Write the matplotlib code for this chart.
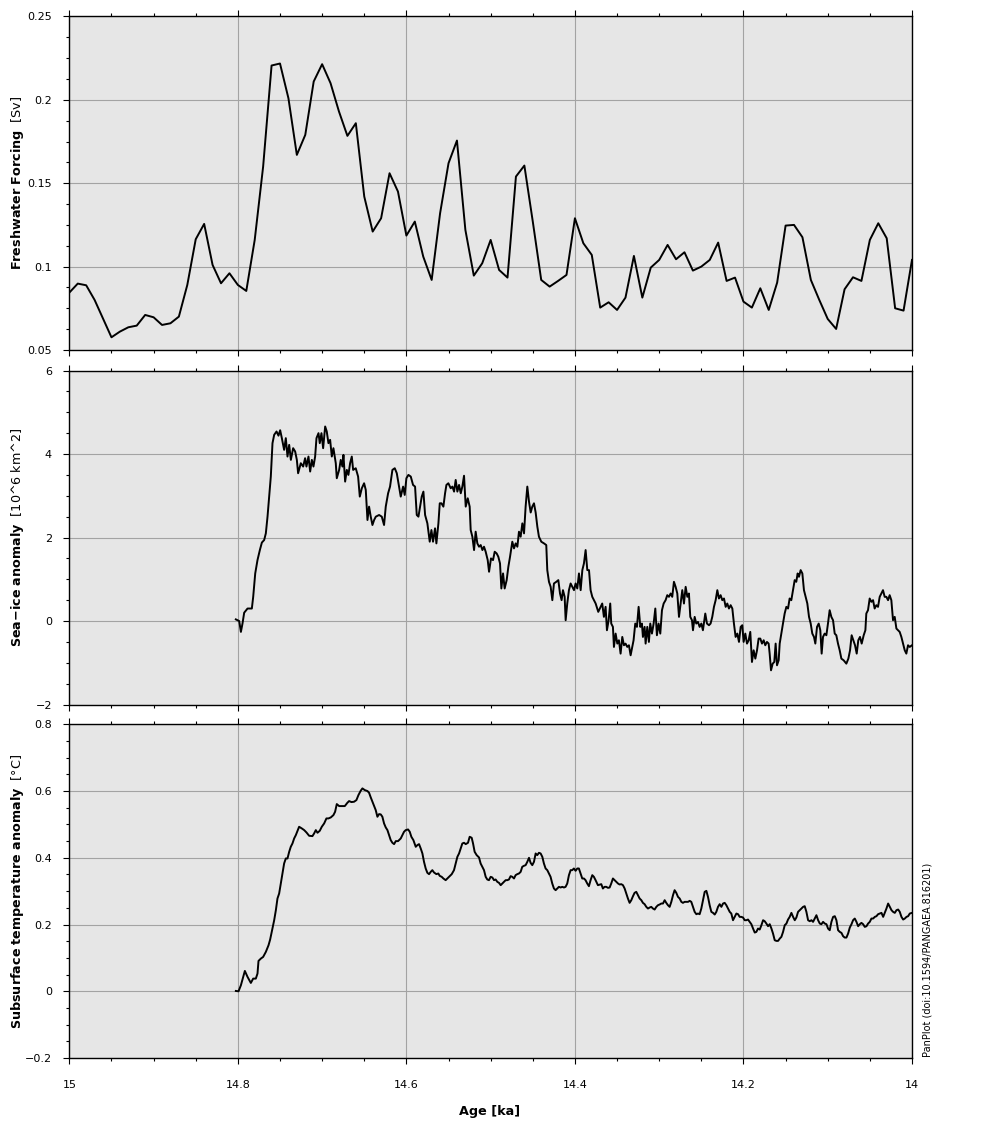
import matplotlib
matplotlib.use("Agg")
import matplotlib.pyplot as plt
from matplotlib.ticker import MultipleLocator, FuncFormatter
import numpy as np

# freshwater forcing, one value every 10 yr from 15 ka to 14 ka
fw_age = np.linspace(15.0, 14.0, 101)
fw_sv = [
    0.0844, 0.0898, 0.0888, 0.0800, 0.0688, 0.0576, 0.0610, 0.0636, 0.0646, 0.0710,
    0.0696, 0.0650, 0.0660, 0.0700, 0.0890, 0.1164, 0.1256, 0.1010, 0.0900, 0.0960,
    0.0890, 0.0854, 0.1160, 0.1600, 0.2206, 0.2218, 0.2010, 0.1670, 0.1790, 0.2110,
    0.2214, 0.2100, 0.1930, 0.1784, 0.1860, 0.1420, 0.1210, 0.1290, 0.1560, 0.1450,
    0.1186, 0.1270, 0.1060, 0.0920, 0.1320, 0.1620, 0.1756, 0.1220, 0.0946, 0.1020,
    0.1160, 0.0980, 0.0934, 0.1540, 0.1606, 0.1270, 0.0920, 0.0880, 0.0914, 0.0950,
    0.1290, 0.1140, 0.1070, 0.0754, 0.0786, 0.0740, 0.0814, 0.1064, 0.0814, 0.0994,
    0.1040, 0.1130, 0.1044, 0.1086, 0.0976, 0.1000, 0.1040, 0.1144, 0.0914, 0.0934,
    0.0790, 0.0754, 0.0870, 0.0740, 0.0904, 0.1246, 0.1250, 0.1176, 0.0920, 0.0800,
    0.0686, 0.0626, 0.0864, 0.0936, 0.0914, 0.1160, 0.1260, 0.1170, 0.0750, 0.0736,
    0.1040,
]

# sea-ice anomaly [10^6 km^2]
ice_age = [
    14.8024, 14.7984, 14.7964, 14.7945, 14.7925, 14.7885, 14.7834, 14.7818, 14.7794, 14.7767,
    14.7739, 14.7715, 14.7688, 14.7668, 14.7648, 14.7628, 14.7609, 14.7589, 14.7569, 14.7541,
    14.7518, 14.7498, 14.7478, 14.7451, 14.7431, 14.7411, 14.7391, 14.7371, 14.7344, 14.7320,
    14.7300, 14.7285, 14.7253, 14.7225, 14.7202, 14.7186, 14.7162, 14.7142, 14.7122, 14.7103,
    14.7083, 14.7067, 14.7043, 14.7028, 14.7008, 14.6988, 14.6964, 14.6945, 14.6925, 14.6905,
    14.6885, 14.6866, 14.6838, 14.6826, 14.6798, 14.6779, 14.6759, 14.6747, 14.6727, 14.6707,
    14.6688, 14.6668, 14.6648, 14.6632, 14.6601, 14.6573, 14.6553, 14.6529, 14.6502, 14.6482,
    14.6462, 14.6443, 14.6423, 14.6403, 14.6383, 14.6363, 14.6324, 14.6292, 14.6265, 14.6245,
    14.6217, 14.6194, 14.6166, 14.6138, 14.6114, 14.6087, 14.6067, 14.6039, 14.6020, 14.6000,
    14.5976, 14.5948, 14.5921, 14.5897, 14.5877, 14.5857, 14.5838, 14.5818, 14.5798, 14.5778,
    14.5751, 14.5723, 14.5703, 14.5684, 14.5660, 14.5644, 14.5620, 14.5604, 14.5584, 14.5561,
    14.5541, 14.5525, 14.5502, 14.5474, 14.5454, 14.5434, 14.5415, 14.5395, 14.5375, 14.5355,
    14.5336, 14.5316, 14.5296, 14.5272, 14.5249, 14.5237, 14.5217, 14.5197, 14.5178, 14.5158,
    14.5138, 14.5118, 14.5098, 14.5079, 14.5059, 14.5035, 14.5019, 14.4996, 14.4972, 14.4952,
    14.4929, 14.4909, 14.4889, 14.4873, 14.4853, 14.4834, 14.4810, 14.4790, 14.4770, 14.4743,
    14.4723, 14.4703, 14.4683, 14.4664, 14.4644, 14.4624, 14.4604, 14.4585, 14.4565, 14.4545,
    14.4525, 14.4506, 14.4486, 14.4466, 14.4446, 14.4427, 14.4399, 14.4367, 14.4340, 14.4328,
    14.4308, 14.4288, 14.4268, 14.4249, 14.4221, 14.4197, 14.4177, 14.4158, 14.4142, 14.4122,
    14.4110, 14.4091, 14.4071, 14.4051, 14.4031, 14.4011, 14.3992, 14.3972, 14.3952, 14.3932,
    14.3912, 14.3893, 14.3873, 14.3853, 14.3833, 14.3814, 14.3794, 14.3754, 14.3723,
    14.3676, 14.3656, 14.3636, 14.3620, 14.3600, 14.3581, 14.3569, 14.3549, 14.3537, 14.3517,
    14.3497, 14.3478, 14.3458, 14.3438, 14.3418, 14.3399, 14.3379, 14.3359, 14.3339, 14.3319,
    14.3304, 14.3284, 14.3264, 14.3244, 14.3224, 14.3205, 14.3193, 14.3173, 14.3161, 14.3141,
    14.3122, 14.3106, 14.3086, 14.3066, 14.3046, 14.3027, 14.3007, 14.2987, 14.2967, 14.2947,
    14.2924, 14.2904, 14.2884, 14.2864, 14.2845, 14.2825, 14.2805, 14.2785, 14.2765, 14.2746,
    14.2726, 14.2706, 14.2686, 14.2666, 14.2647, 14.2631, 14.2611, 14.2599, 14.2579, 14.2560,
    14.2540, 14.2520, 14.2500, 14.2481, 14.2453, 14.2433, 14.2409, 14.2390, 14.2370, 14.2350,
    14.2330, 14.2310, 14.2291, 14.2271, 14.2251, 14.2231, 14.2211, 14.2192, 14.2172, 14.2152,
    14.2132, 14.2113, 14.2093, 14.2073, 14.2053, 14.2033, 14.2014, 14.1998, 14.1978, 14.1958,
    14.1938, 14.1919, 14.1899, 14.1879, 14.1859, 14.1839, 14.1820, 14.1800, 14.1780, 14.1760,
    14.1741, 14.1721, 14.1701, 14.1689, 14.1673, 14.1653, 14.1634, 14.1618, 14.1602, 14.1582,
    14.1570, 14.1551, 14.1531, 14.1511, 14.1491, 14.1471, 14.1452, 14.1432, 14.1412, 14.1392,
    14.1373, 14.1357, 14.1341, 14.1321, 14.1301, 14.1282, 14.1262, 14.1242, 14.1222, 14.1202,
    14.1183, 14.1163, 14.1147, 14.1127, 14.1107, 14.1088, 14.1072, 14.1056, 14.1036, 14.1016,
    14.0997, 14.0977, 14.0957, 14.0937, 14.0917, 14.0898, 14.0878, 14.0858, 14.0838, 14.0811,
    14.0779, 14.0755, 14.0735, 14.0716, 14.0696, 14.0676, 14.0656, 14.0637, 14.0617, 14.0597,
    14.0573, 14.0553, 14.0542, 14.0522, 14.0502, 14.0482, 14.0462, 14.0443, 14.0423, 14.0403,
    14.0383, 14.0364, 14.0344, 14.0324, 14.0304, 14.0284, 14.0265, 14.0245, 14.0225, 14.0205,
    14.0185, 14.0166, 14.0146, 14.0126, 14.0106, 14.0086, 14.0067, 14.0047, 14.0027, 14.0000,
]
ice_val = [
    0.04, 0.00, -0.26, -0.06, 0.20, 0.30, 0.30, 0.58, 1.14, 1.46,
    1.70, 1.88, 1.94, 2.10, 2.50, 2.98, 3.46, 4.26, 4.46, 4.54,
    4.44, 4.57, 4.38, 4.10, 4.38, 3.94, 4.22, 3.86, 4.14, 4.06,
    3.86, 3.54, 3.78, 3.70, 3.90, 3.70, 3.94, 3.58, 3.86, 3.70,
    3.94, 4.38, 4.50, 4.26, 4.50, 4.14, 4.66, 4.54, 4.26, 4.34,
    3.94, 4.14, 3.78, 3.42, 3.62, 3.86, 3.70, 3.98, 3.34, 3.62,
    3.50, 3.78, 3.94, 3.62, 3.66, 3.46, 2.98, 3.18, 3.30, 3.14,
    2.42, 2.74, 2.50, 2.30, 2.42, 2.50, 2.54, 2.50, 2.30, 2.74,
    3.06, 3.22, 3.62, 3.66, 3.54, 3.22, 2.98, 3.22, 3.02, 3.42,
    3.50, 3.46, 3.26, 3.22, 2.54, 2.50, 2.74, 2.98, 3.10, 2.54,
    2.34, 1.90, 2.18, 1.90, 2.22, 1.86, 2.34, 2.82, 2.82, 2.74,
    3.06, 3.26, 3.30, 3.18, 3.22, 3.10, 3.38, 3.10, 3.26, 3.06,
    3.22, 3.48, 2.74, 2.94, 2.74, 2.18, 2.02, 1.70, 2.14, 1.86,
    1.78, 1.82, 1.70, 1.78, 1.66, 1.46, 1.18, 1.50, 1.46, 1.66,
    1.62, 1.54, 1.38, 0.78, 1.14, 0.78, 0.98, 1.30, 1.54, 1.90,
    1.74, 1.86, 1.78, 2.14, 2.02, 2.34, 2.10, 2.74, 3.22, 2.86,
    2.60, 2.74, 2.82, 2.60, 2.26, 2.02, 1.90, 1.86, 1.82, 1.22,
    0.94, 0.82, 0.50, 0.90, 0.94, 0.98, 0.66, 0.50, 0.74, 0.58,
    0.02, 0.42, 0.74, 0.90, 0.82, 0.74, 0.90, 0.78, 1.14, 0.74,
    1.22, 1.38, 1.70, 1.22, 1.22, 0.74, 0.58, 0.42, 0.22,
    0.42, 0.10, 0.34, -0.22, 0.02, 0.42, -0.06, -0.14, -0.62, -0.30,
    -0.54, -0.46, -0.78, -0.38, -0.58, -0.54, -0.62, -0.58, -0.82, -0.62,
    -0.46, -0.06, -0.14, 0.34, -0.14, -0.06, -0.38, -0.14, -0.54, -0.14,
    -0.50, -0.06, -0.30, -0.06, 0.30, -0.34, -0.06, -0.30, 0.26, 0.42,
    0.50, 0.62, 0.58, 0.66, 0.58, 0.94, 0.82, 0.66, 0.10, 0.42,
    0.74, 0.42, 0.82, 0.58, 0.66, 0.10, 0.02, -0.22, 0.10, -0.06,
    -0.02, -0.14, -0.06, -0.22, 0.18, -0.06, -0.10, -0.06, 0.10, 0.34,
    0.50, 0.74, 0.54, 0.62, 0.50, 0.54, 0.34, 0.42, 0.30, 0.38,
    0.30, -0.06, -0.38, -0.30, -0.50, -0.14, -0.10, -0.50, -0.30, -0.54,
    -0.46, -0.26, -0.98, -0.70, -0.90, -0.70, -0.42, -0.42, -0.54, -0.46,
    -0.58, -0.50, -0.54, -0.78, -1.18, -1.02, -0.98, -0.54, -1.06, -0.94,
    -0.54, -0.30, -0.06, 0.18, 0.34, 0.30, 0.54, 0.50, 0.74, 0.98,
    0.94, 1.14, 1.06, 1.22, 1.14, 0.74, 0.58, 0.42, 0.10, -0.06,
    -0.30, -0.38, -0.54, -0.14, -0.06, -0.22, -0.78, -0.38, -0.30, -0.34,
    -0.06, 0.26, 0.10, 0.02, -0.30, -0.34, -0.54, -0.70, -0.90, -0.94,
    -1.02, -0.90, -0.70, -0.34, -0.46, -0.58, -0.78, -0.46, -0.38, -0.54,
    -0.34, -0.22, 0.18, 0.26, 0.54, 0.46, 0.50, 0.30, 0.38, 0.34,
    0.58, 0.66, 0.74, 0.58, 0.58, 0.50, 0.62, 0.50, 0.02, 0.10,
    -0.18, -0.22, -0.26, -0.38, -0.54, -0.70, -0.78, -0.58, -0.62, -0.58,
]

# subsurface temperature anomaly [deg C]
sst_age = [
    14.8024, 14.7992, 14.7964, 14.7917, 14.7885, 14.7846, 14.7818, 14.7787, 14.7767, 14.7755,
    14.7727, 14.7700, 14.7668, 14.7636, 14.7617, 14.7589, 14.7569, 14.7549, 14.7530, 14.7510,
    14.7490, 14.7470, 14.7451, 14.7431, 14.7411, 14.7391, 14.7372, 14.7352, 14.7332, 14.7312,
    14.7292, 14.7273, 14.7241, 14.7213, 14.7186, 14.7154, 14.7115, 14.7095, 14.7075, 14.7055,
    14.7028, 14.7004, 14.6976, 14.6949, 14.6925, 14.6897, 14.6866, 14.6846, 14.6826, 14.6798,
    14.6767, 14.6731, 14.6700, 14.6680, 14.6652, 14.6621, 14.6593, 14.6569, 14.6542, 14.6522,
    14.6494, 14.6462, 14.6443, 14.6423, 14.6403, 14.6383, 14.6364, 14.6344, 14.6324, 14.6304,
    14.6285, 14.6265, 14.6245, 14.6225, 14.6206, 14.6186, 14.6166, 14.6146, 14.6126, 14.6099,
    14.6067, 14.6047, 14.6028, 14.6008, 14.5980, 14.5960, 14.5941, 14.5917, 14.5889, 14.5870,
    14.5850, 14.5830, 14.5810, 14.5791, 14.5771, 14.5751, 14.5731, 14.5711, 14.5692, 14.5672,
    14.5644, 14.5621, 14.5605, 14.5581, 14.5561, 14.5534, 14.5514, 14.5494, 14.5462, 14.5435,
    14.5415, 14.5395, 14.5375, 14.5356, 14.5336, 14.5316, 14.5296, 14.5269, 14.5249, 14.5225,
    14.5209, 14.5190, 14.5166, 14.5138, 14.5119, 14.5099, 14.5079, 14.5059, 14.5040, 14.5020,
    14.5000, 14.4980, 14.4960, 14.4941, 14.4921, 14.4901, 14.4881, 14.4862, 14.4842, 14.4822,
    14.4802, 14.4783, 14.4763, 14.4743, 14.4723, 14.4704, 14.4684, 14.4664, 14.4644, 14.4625,
    14.4605, 14.4585, 14.4565, 14.4545, 14.4526, 14.4506, 14.4486, 14.4466, 14.4447, 14.4427,
    14.4407, 14.4387, 14.4368, 14.4348, 14.4328, 14.4308, 14.4289, 14.4269, 14.4249, 14.4229,
    14.4209, 14.4190, 14.4170, 14.4150, 14.4130, 14.4111, 14.4091, 14.4071, 14.4051, 14.4032,
    14.4012, 14.3992, 14.3972, 14.3953, 14.3933, 14.3913, 14.3893, 14.3874, 14.3854, 14.3834,
    14.3814, 14.3794, 14.3775, 14.3755, 14.3727,
    14.3687, 14.3668, 14.3648, 14.3628, 14.3608, 14.3588, 14.3569, 14.3549, 14.3529, 14.3509,
    14.3489, 14.3470, 14.3450, 14.3430, 14.3410, 14.3391, 14.3371, 14.3351, 14.3331, 14.3311,
    14.3292, 14.3272, 14.3252, 14.3232, 14.3212, 14.3193, 14.3173, 14.3153, 14.3133, 14.3113,
    14.3094, 14.3074, 14.3054, 14.3034, 14.3014, 14.2995, 14.2975, 14.2955, 14.2935, 14.2916,
    14.2896, 14.2876, 14.2856, 14.2836, 14.2817, 14.2797, 14.2777, 14.2757, 14.2737, 14.2718,
    14.2698, 14.2678, 14.2658, 14.2638, 14.2619, 14.2599, 14.2579, 14.2559, 14.2539, 14.2520,
    14.2500, 14.2480, 14.2460, 14.2440, 14.2421, 14.2401, 14.2381, 14.2361, 14.2341, 14.2322,
    14.2302, 14.2282, 14.2262, 14.2242, 14.2223, 14.2203, 14.2183, 14.2163, 14.2144, 14.2124,
    14.2104, 14.2084, 14.2064, 14.2045, 14.2025, 14.2005, 14.1985, 14.1965, 14.1946, 14.1926,
    14.1906, 14.1886, 14.1866, 14.1847, 14.1827, 14.1807, 14.1787, 14.1767, 14.1748, 14.1728,
    14.1708, 14.1688, 14.1668, 14.1649, 14.1629, 14.1609, 14.1589, 14.1569, 14.1550, 14.1530,
    14.1510, 14.1490, 14.1471, 14.1451, 14.1431, 14.1411, 14.1391, 14.1372, 14.1352, 14.1332,
    14.1312, 14.1292, 14.1273, 14.1253, 14.1233, 14.1213, 14.1193, 14.1174, 14.1154, 14.1134,
    14.1114, 14.1094, 14.1075, 14.1055, 14.1035, 14.1015, 14.0996, 14.0976, 14.0956, 14.0936,
    14.0916, 14.0897, 14.0877, 14.0857, 14.0837, 14.0817, 14.0798, 14.0778, 14.0758, 14.0738,
    14.0718, 14.0699, 14.0679, 14.0659, 14.0639, 14.0619, 14.0600, 14.0580, 14.0560, 14.0540,
    14.0521, 14.0501, 14.0481, 14.0461, 14.0441, 14.0422, 14.0402, 14.0382, 14.0362, 14.0342,
    14.0323, 14.0303, 14.0283, 14.0263, 14.0243, 14.0224, 14.0204, 14.0184, 14.0164, 14.0145,
    14.0125, 14.0105, 14.0085, 14.0065, 14.0046, 14.0026, 14.0000,
]
sst_val = [
    0.001, 0.000, 0.018, 0.061, 0.043, 0.025, 0.038, 0.038, 0.053, 0.091,
    0.098, 0.103, 0.118, 0.138, 0.155, 0.188, 0.213, 0.243, 0.278, 0.293,
    0.323, 0.353, 0.383, 0.398, 0.398, 0.418, 0.433, 0.443, 0.458, 0.468,
    0.481, 0.493, 0.488, 0.483, 0.476, 0.466, 0.465, 0.473, 0.483, 0.475,
    0.481, 0.493, 0.503, 0.518, 0.518, 0.521, 0.528, 0.538, 0.561, 0.555,
    0.555, 0.555, 0.565, 0.570, 0.567, 0.568, 0.573, 0.588, 0.601, 0.608,
    0.603, 0.600, 0.595, 0.581, 0.568, 0.555, 0.543, 0.523, 0.531, 0.530,
    0.523, 0.503, 0.491, 0.483, 0.468, 0.453, 0.445, 0.441, 0.450, 0.450,
    0.458, 0.468, 0.478, 0.483, 0.485, 0.478, 0.463, 0.453, 0.433, 0.438,
    0.441, 0.428, 0.413, 0.388, 0.368, 0.355, 0.351, 0.358, 0.363, 0.356,
    0.351, 0.353, 0.346, 0.343, 0.338, 0.333, 0.338, 0.343, 0.351, 0.363,
    0.383, 0.403, 0.413, 0.428, 0.443, 0.445, 0.441, 0.445, 0.463, 0.460,
    0.443, 0.418, 0.408, 0.401, 0.383, 0.373, 0.363, 0.343, 0.335, 0.333,
    0.343, 0.341, 0.333, 0.335, 0.328, 0.325, 0.318, 0.323, 0.328, 0.333,
    0.333, 0.335, 0.345, 0.343, 0.338, 0.348, 0.351, 0.353, 0.358, 0.373,
    0.376, 0.378, 0.388, 0.400, 0.385, 0.378, 0.388, 0.413, 0.408, 0.415,
    0.413, 0.403, 0.383, 0.368, 0.363, 0.353, 0.343, 0.323, 0.308, 0.303,
    0.308, 0.313, 0.311, 0.313, 0.311, 0.313, 0.323, 0.348, 0.363, 0.363,
    0.368, 0.361, 0.368, 0.368, 0.353, 0.338, 0.338, 0.333, 0.323, 0.315,
    0.333, 0.348, 0.343, 0.333, 0.318,
    0.321, 0.308, 0.313, 0.313, 0.310, 0.311, 0.323, 0.338, 0.333, 0.328,
    0.323, 0.320, 0.321, 0.318, 0.308, 0.293, 0.278, 0.265, 0.273, 0.285,
    0.295, 0.298, 0.288, 0.278, 0.273, 0.265, 0.261, 0.253, 0.248, 0.251,
    0.253, 0.248, 0.245, 0.253, 0.258, 0.260, 0.263, 0.263, 0.273, 0.265,
    0.258, 0.253, 0.268, 0.288, 0.303, 0.295, 0.283, 0.278, 0.268, 0.265,
    0.268, 0.268, 0.268, 0.271, 0.268, 0.253, 0.238, 0.231, 0.233, 0.231,
    0.248, 0.273, 0.298, 0.301, 0.283, 0.258, 0.238, 0.235, 0.230, 0.238,
    0.253, 0.261, 0.253, 0.263, 0.265, 0.258, 0.248, 0.238, 0.233, 0.213,
    0.223, 0.233, 0.231, 0.223, 0.223, 0.221, 0.213, 0.213, 0.215, 0.208,
    0.201, 0.188, 0.176, 0.178, 0.188, 0.185, 0.198, 0.213, 0.210, 0.203,
    0.195, 0.201, 0.188, 0.173, 0.153, 0.151, 0.151, 0.158, 0.163, 0.178,
    0.198, 0.203, 0.215, 0.223, 0.235, 0.223, 0.213, 0.221, 0.238, 0.243,
    0.248, 0.253, 0.255, 0.238, 0.213, 0.210, 0.213, 0.208, 0.218, 0.228,
    0.213, 0.203, 0.201, 0.208, 0.203, 0.201, 0.188, 0.183, 0.208, 0.223,
    0.225, 0.213, 0.183, 0.178, 0.175, 0.165, 0.161, 0.161, 0.173, 0.191,
    0.201, 0.213, 0.218, 0.208, 0.195, 0.201, 0.205, 0.201, 0.193, 0.195,
    0.203, 0.208, 0.218, 0.218, 0.223, 0.225, 0.231, 0.233, 0.235, 0.223,
    0.235, 0.248, 0.263, 0.253, 0.243, 0.238, 0.235, 0.243, 0.245, 0.238,
    0.223, 0.215, 0.218, 0.223, 0.225, 0.233, 0.235,
]

ylabels = [
    r"$\mathbf{Freshwater\ Forcing}$  [Sv]",
    r"$\mathbf{Sea{-}ice\ anomaly}$  [10^6 km^2]",
    r"$\mathbf{Subsurface\ temperature\ anomaly}$  [°C]",
]
ylims = [(0.05, 0.25), (-2, 6), (-0.2, 0.8)]
ymajor = [0.05, 2, 0.2]
yminor = [0.0125, 0.5, 0.05]

bg = "#e6e6e6"
gridc = "#a3a3a3"

fig = plt.figure(figsize=(9.82, 11.3), dpi=100)
left, width = 0.0706, 0.8581
boxes = [(0.6903, 0.2951), (0.3765, 0.2956), (0.0637, 0.2953)]
axes = [fig.add_axes([left, b, width, h]) for b, h in boxes]

series = [(fw_age, fw_sv), (ice_age, ice_val), (sst_age, sst_val)]

fmt = FuncFormatter(lambda v, p: ("%g" % round(v, 6)).replace("-", "\u2212"))

for i, ax in enumerate(axes):
    x, y = series[i]
    ax.plot(x, y, color="black", lw=1.4, zorder=3)
    ax.set_facecolor(bg)
    ax.set_xlim(15, 14)
    ax.set_ylim(*ylims[i])
    ax.xaxis.set_major_locator(MultipleLocator(0.2))
    ax.xaxis.set_minor_locator(MultipleLocator(0.05))
    ax.yaxis.set_major_locator(MultipleLocator(ymajor[i]))
    ax.yaxis.set_minor_locator(MultipleLocator(yminor[i]))
    ax.xaxis.set_major_formatter(fmt)
    ax.yaxis.set_major_formatter(fmt)
    ax.grid(True, which="major", color=gridc, lw=0.8)
    ax.set_axisbelow(True)
    ax.tick_params(axis="x", which="both", direction="out", top=True, bottom=True,
                   labelbottom=(i == 2), labelsize=8, pad=11, width=0.8)
    ax.tick_params(axis="y", which="both", direction="out", left=True, right=False,
                   labelsize=8, pad=8, width=0.8)
    ax.tick_params(which="major", length=4.5)
    ax.tick_params(which="minor", length=2.5)
    for s in ax.spines.values():
        s.set_linewidth(1.0)
    ax.set_ylabel(ylabels[i], fontsize=9.2)
    ax.yaxis.set_label_coords(-0.052, 0.5)

fig.text(490 / 982, 1 - 1112 / 1130, "Age [ka]", ha="center", va="center",
         fontsize=9.2, fontweight="bold")
fig.text(928 / 982, 1 - 1057 / 1130, "PanPlot (doi:10.1594/PANGAEA.816201)",
         rotation=90, ha="center", va="bottom", fontsize=7)

fig.savefig("out.png", dpi=100)
